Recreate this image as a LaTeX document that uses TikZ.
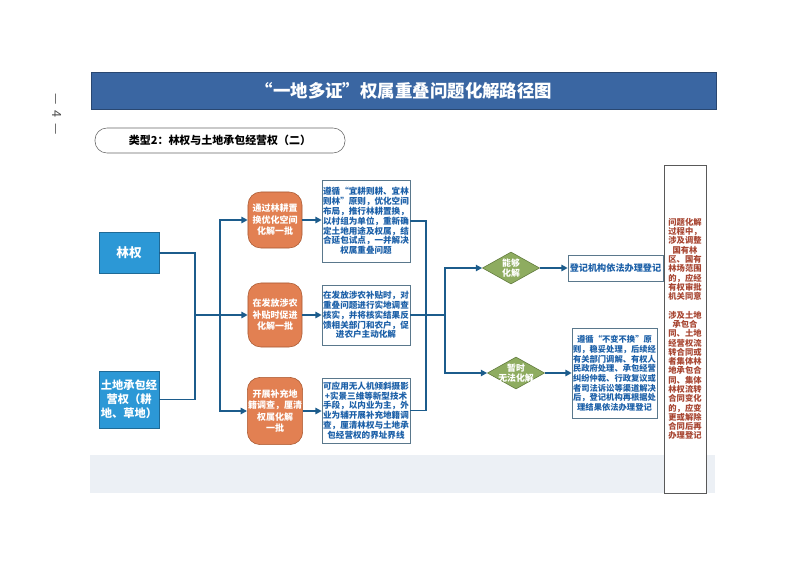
\documentclass[tikz,border=0pt]{standalone}
\usepackage{fontspec}
\setmainfont{Noto Sans CJK SC}
\usetikzlibrary{shapes.geometric,arrows.meta}
\definecolor{barblue}{RGB}{58,102,162}
\definecolor{leftblue}{RGB}{44,152,214}
\definecolor{linkblue}{RGB}{28,92,140}
\definecolor{textblue}{RGB}{28,96,168}
\definecolor{boxgray}{RGB}{90,120,140}
\definecolor{orangefill}{RGB}{226,128,82}
\definecolor{orangeedge}{RGB}{168,88,48}
\definecolor{greenfill}{RGB}{142,172,96}
\definecolor{greenedge}{RGB}{96,122,60}
\definecolor{notered}{RGB}{168,70,50}
\definecolor{ghostband}{RGB}{236,240,245}
\tikzset{
  link/.style={line width=1.2pt,draw=linkblue},
  arrowlink/.style={link,-{Triangle[length=4.5pt,width=4.5pt]}},
  rightsbox/.style={rectangle,draw=leftblue!70!black,fill=leftblue,text=white,
    font=\bfseries\fontsize{8}{10}\selectfont,align=center,minimum width=1.5cm,inner sep=1pt},
  waybox/.style={rectangle,rounded corners=0.32cm,draw=orangeedge,fill=orangefill,text=white,
    font=\bfseries\fontsize{6.4}{8.2}\selectfont,align=center,minimum width=1.35cm,inner sep=0.5pt},
  textbox/.style={rectangle,draw=boxgray,fill=white,text=textblue,
    font=\bfseries\fontsize{6.1}{7}\selectfont,align=center,minimum width=2.2cm,inner xsep=0.3pt,inner ysep=1pt},
  choice/.style={diamond,draw=greenedge,fill=greenfill,inner sep=0pt,
    minimum width=1.43cm,minimum height=0.8cm},
  choicetext/.style={text=white,font=\bfseries\fontsize{6.3}{7.5}\selectfont,align=center,inner sep=0pt}
}
\begin{document}
\begin{tikzpicture}[x=0.025cm,y=-0.025cm]
\useasboundingbox (0,0) rectangle (800,565);
% page head
\node (page) [rotate=-90,text=black!70,font=\fontsize{9}{10}\selectfont] at (57,114) {—\ \ 4\ \ —};
\node (title) [rectangle,draw=barblue!70!black,fill=barblue,text=white,minimum width=15.625cm,minimum height=0.925cm,
  font=\bfseries\fontsize{12.4}{14}\selectfont] at (404,90.5) {“一地多证”权属重叠问题化解路径图};
\node (type) [rectangle,rounded corners=0.3cm,draw=black!60,fill=white,minimum width=6.25cm,minimum height=0.625cm,
  font=\bfseries\fontsize{7.8}{9}\selectfont] at (220,140.5) {类型2：林权与土地承包经营权（二）};
\fill[ghostband] (90,455) rectangle (715,493);

% rights
\node (lq) [rightsbox,minimum height=1.025cm,font=\bfseries\fontsize{9}{10}\selectfont] at (129,253) {林权};
\node (tc) [rightsbox,minimum height=1.425cm] at (129,399.5) {土地承包经\\营权（耕\\地、草地）};

% ways
\node (o1) [waybox,minimum height=1.4cm] at (275,220) {通过林耕置\\换优化空间\\化解一批};
\node (o2) [waybox,minimum height=1.6cm] at (275,315) {在发放涉农\\补贴时促进\\化解一批};
\node (o3) [waybox,minimum height=1.68cm] at (275,411) {开展补充地\\籍调查，厘清\\权属化解\\一批};

\node (b1) [textbox,minimum height=2.05cm] at (366,221) {遵循“宜耕则耕、宜林\\则林”原则，优化空间\\布局，推行林耕置换，\\以村组为单位，重新确\\定土地用途及权属，结\\合延包试点，一并解决\\权属重叠问题};
\node (b2) [textbox,minimum height=1.5cm] at (366,315) {在发放涉农补贴时，对\\重叠问题进行实地调查\\核实，并将核实结果反\\馈相关部门和农户，促\\进农户主动化解};
\node (b3) [textbox,minimum height=1.63cm] at (366,410.5) {可应用无人机倾斜摄影\\+实景三维等新型技术\\手段，以内业为主，外\\业为辅开展补充地籍调\\查，厘清林权与土地承\\包经营权的界址界线};

% outcomes
\node (d1) [choice,label={[choicetext]center:能够\\化解}] at (511,268) {};
\node (d2) [choice,label={[choicetext]center:暂时\\无法化解}] at (516,373) {};
\node (r1) [textbox,minimum width=2.375cm,minimum height=0.65cm,font=\bfseries\fontsize{6.5}{7.5}\selectfont] at (615.5,268) {登记机构依法办理登记};
\node (r2) [textbox,minimum width=2.125cm,minimum height=2.25cm,font=\bfseries\fontsize{5.9}{6.9}\selectfont] at (614.5,373.5) {遵循“不变不换”原\\则，稳妥处理，后续经\\有关部门调解、有权人\\民政府处理、承包经营\\纠纷仲裁、行政复议或\\者司法诉讼等渠道解决\\后，登记机构再根据处\\理结果依法办理登记};
\node (note) [rectangle,draw=black!65,fill=white,text=notered,minimum width=1.05cm,minimum height=8.2cm,inner sep=0pt,align=center,
  font=\bfseries\fontsize{5.9}{6.6}\selectfont] at (685,329) {问题化解\\过程中，\\涉及调整\\国有林\\区、国有\\林场范围\\的，应经\\有权审批\\机关同意\\[6.6pt]涉及土地\\承包合\\同、土地\\经营权流\\转合同或\\者集体林\\地承包合\\同、集体\\林权流转\\合同变化\\的，应变\\更或解除\\合同后再\\办理登记};

% connectors
\coordinate (lj) at (195,315);
\coordinate (tj) at (220,315);
\draw [link] (lq.east) -| (lj);
\draw [link] (tc.east) -| (lj);
\draw [link] (lj) -- (tj);
\draw [arrowlink] (tj) |- (o1.west);
\draw [arrowlink] (tj) -- (o2.west);
\draw [arrowlink] (tj) |- (o3.west);
\draw [arrowlink] (o1.east) -- (o1.east -| b1.west);
\draw [arrowlink] (o2.east) -- (o2.east -| b2.west);
\draw [arrowlink] (o3.east) -- (o3.east -| b3.west);

\coordinate (rj) at (426,315);
\coordinate (dj) at (445,315);
\draw [link] (b1.east) -| (rj);
\draw [link] (b3.east) -| (rj);
\draw [link] (b2.east) -- (rj) -- (dj);
\draw [arrowlink] (dj) |- (d1.west);
\draw [arrowlink] (dj) |- (d2.west);
\draw [arrowlink] (d1.east) -- (r1.west);
\draw [arrowlink] (d2.east) -- (d2.east -| r2.west);
\end{tikzpicture}
\end{document}
